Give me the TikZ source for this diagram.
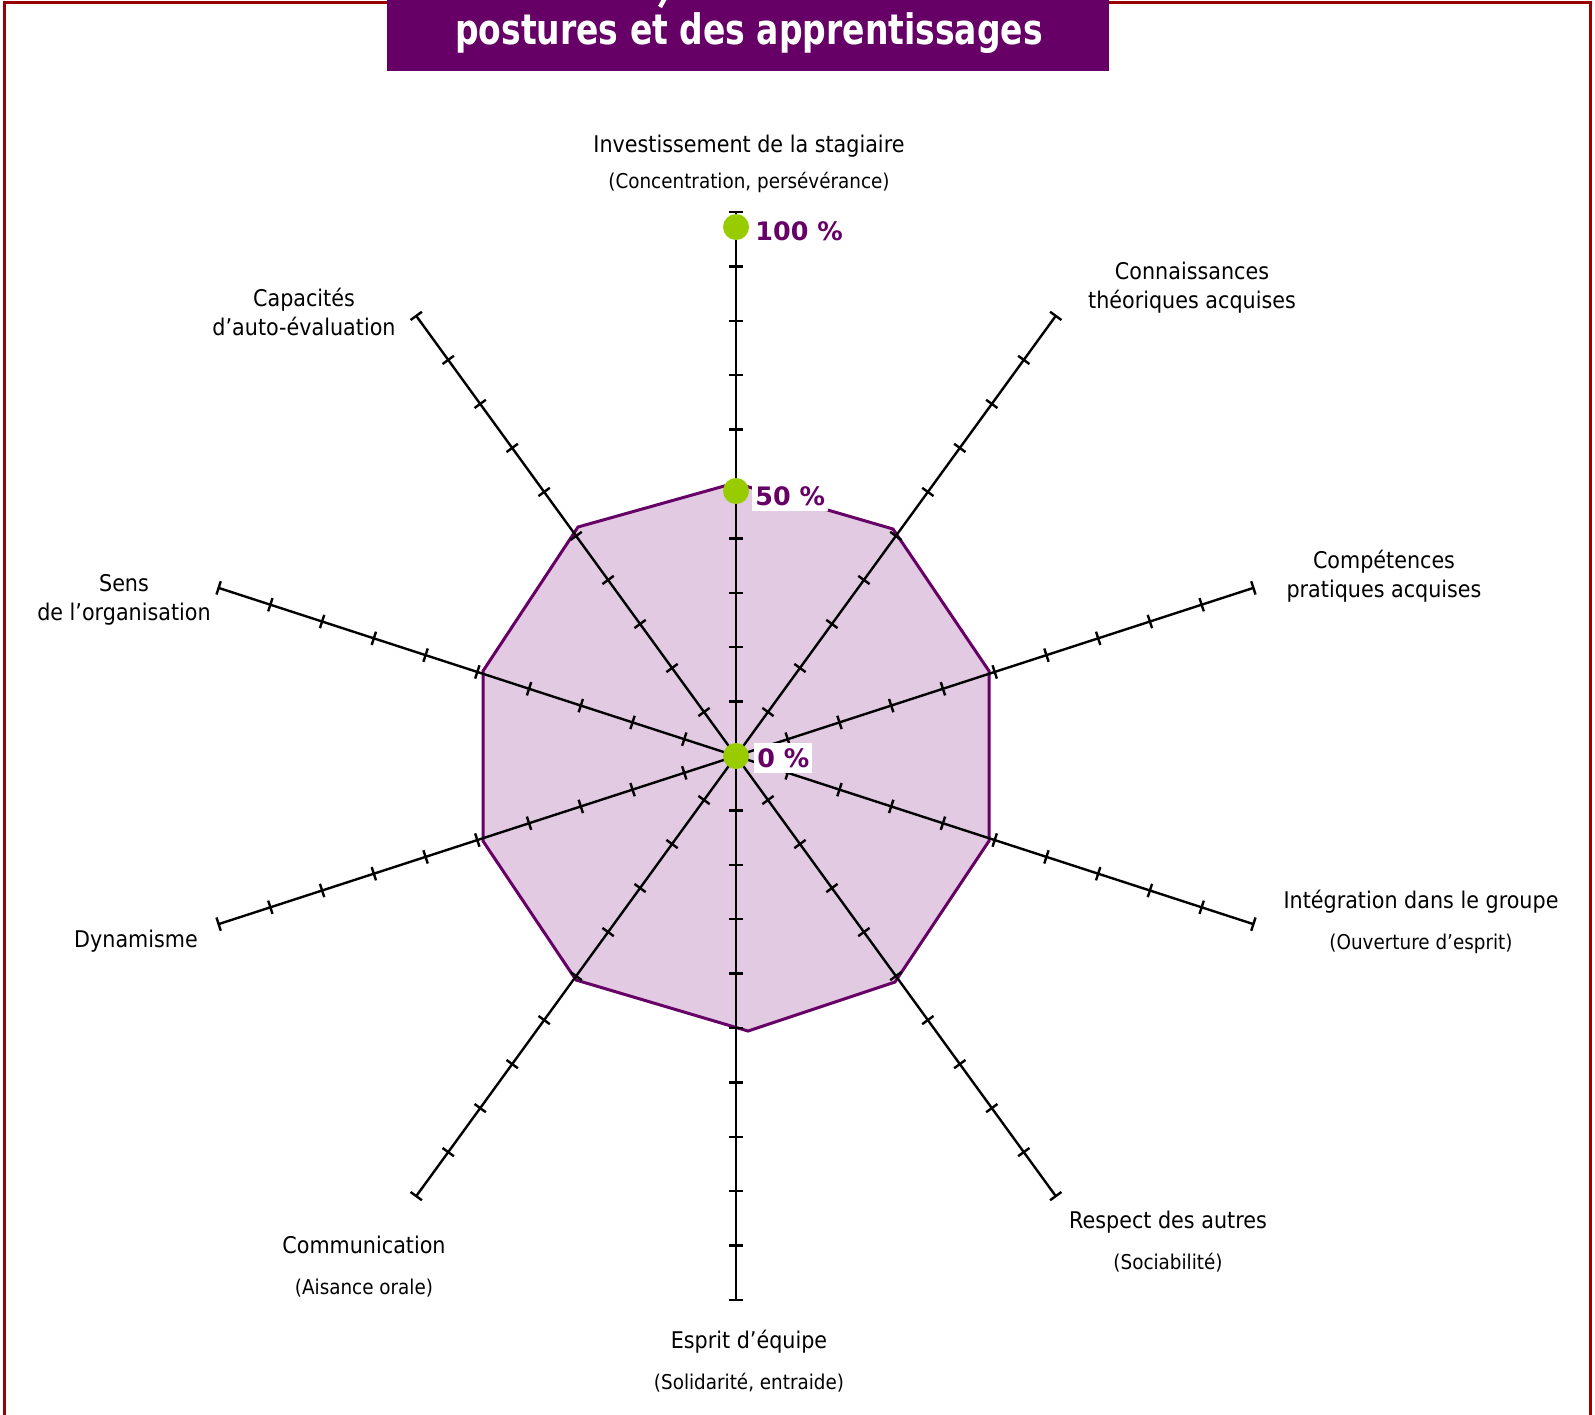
\documentclass[tikz,border=0pt]{standalone}
\usepackage{fontspec}
\setmainfont{DejaVu Sans}[FakeStretch=0.9]
\newfontfamily\pctfont{DejaVu Sans}
\usetikzlibrary{calc}

\definecolor{plum}{RGB}{102,0,102}
\definecolor{framered}{RGB}{153,0,0}
\definecolor{lime}{RGB}{153,204,0}
\definecolor{plumfill}{RGB}{226,202,226}

\begin{document}
\begin{tikzpicture}[x=0.5pt,y=-0.5pt,
    axis/.style={black, line width=1.2pt},
    poly/.style={fill=plumfill, draw=plum, line width=1.5pt, line join=miter},
    dot/.style={circle, fill=lime, inner sep=0pt, minimum size=13pt},
    pct/.style={text=plum, font=\pctfont\bfseries\fontsize{12.7}{14}\selectfont, inner xsep=1.5pt, inner ysep=0pt, minimum height=15pt, anchor=west},
    lab/.style={font=\fontsize{11.5}{14.6}\selectfont, align=center, inner sep=0pt},
    sub/.style={font=\fontsize{10.2}{12}\selectfont, align=center, inner sep=0pt}]
  \useasboundingbox (0,0) rectangle (1595,1414);
  \clip (0,0) rectangle (1595,1414);

  % page frame
  \draw[framered, line width=1.5pt] (4,2) rectangle (1590,1500);

  % title banner
  \fill[plum] (387,-10) rectangle (1109,71);
  \draw[white, line width=2.2pt] (665,-2) -- (660,7);
  \node[text=white, font=\bfseries\fontsize{17.8}{20}\selectfont, inner sep=0pt] (title) at (749,33)
    {\scalebox{1.03}[1.18]{postures et des apprentissages}};

  % centre of the radar
  \coordinate (O) at (736,756);

  % 50 % polygon
  \path[poly] (735,483) -- (893,529) -- (989,671) -- (989,841) -- (895,982)
    -- (748,1031) -- (576,980) -- (483,841) -- (483,671) -- (578,527) -- cycle;

  % ten graduated axes
  \foreach \a in {90,54,18,-18,-54,-90,-126,-162,162,126} {
    \begin{scope}[shift={(O)}, rotate=\a]
      \draw[axis] (0,0) -- (544,0);
      \foreach \k in {1,...,10}
        \draw[axis] (\k*54.4,-7) -- (\k*54.4,7);
    \end{scope}
  }

  % markers and scale labels
  \node[dot] (d100) at (736,227) {};
  \node[dot] (d50) at (736,491) {};
  \node[dot] (d0) at (O) {};
  \node[pct] (p100) at (752,231) {100 \%};
  \node[pct, fill=white] (p50) at (752,496) {50 \%};
  \node[pct, fill=white] (p0) at (754,758) {0 \%};

  % axis captions
  \node[lab] (l1) at (749,146) {Investissement de la stagiaire};
  \node[sub] (l1s) at (749,182) {(Concentration, persévérance)};
  \node[lab] (l2) at (1192,288) {Connaissances\\théoriques acquises};
  \node[lab] (l3) at (1384,576) {Compétences\\pratiques acquises};
  \node[lab] (l4) at (1421,902) {Intégration dans le groupe};
  \node[sub] (l4s) at (1421,944) {(Ouverture d’esprit)};
  \node[lab] (l5) at (1168,1222) {Respect des autres};
  \node[sub] (l5s) at (1168,1263) {(Sociabilité)};
  \node[lab] (l6) at (749,1342) {Esprit d’équipe};
  \node[sub] (l6s) at (749,1383) {(Solidarité, entraide)};
  \node[lab] (l7) at (364,1245) {Communication};
  \node[sub] (l7s) at (364,1288) {(Aisance orale)};
  \node[lab] (l8) at (136,941) {Dynamisme};
  \node[lab] (l9) at (124,600) {Sens\\de l’organisation};
  \node[lab] (l10) at (304,312) {Capacités\\d’auto-évaluation};
\end{tikzpicture}
\end{document}
